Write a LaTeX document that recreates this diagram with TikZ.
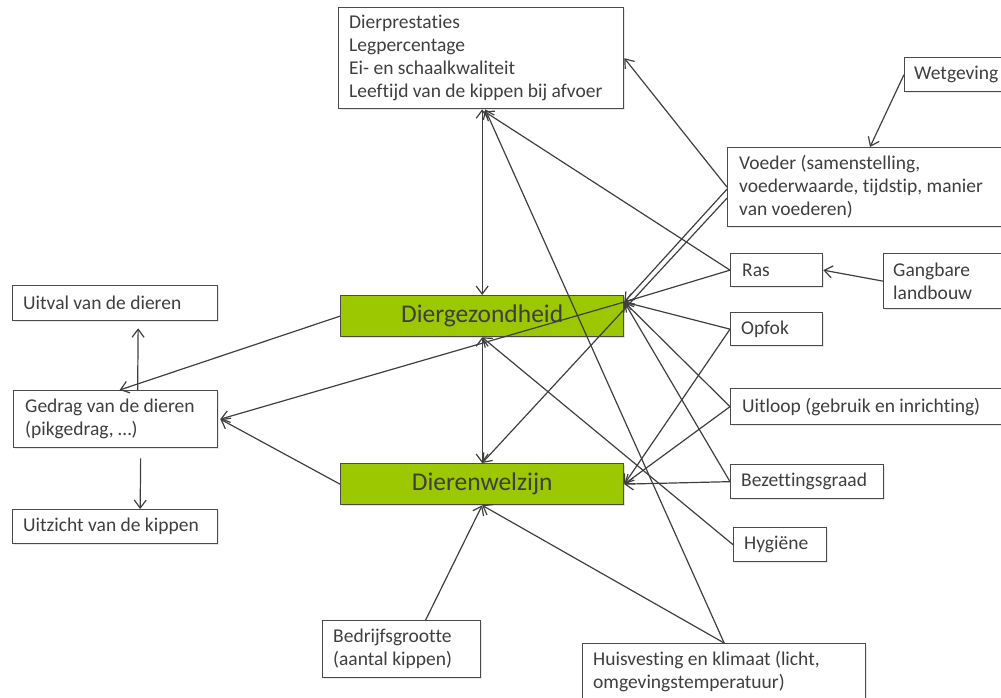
\documentclass[tikz,border=0pt]{standalone}
\usepackage{fontspec}
\setmainfont{Carlito}[Ligatures=NoCommon]
\usetikzlibrary{arrows.meta,calc,shadows}
\definecolor{ink}{HTML}{3F3F3F}
\definecolor{frame}{HTML}{4A4A4A}
\definecolor{leaf}{HTML}{9BC800}
\begin{document}
\begin{tikzpicture}[x=1pt,y=-1pt,
  every node/.style={font=\fontsize{19.5}{23}\selectfont, text=ink},
  box/.style={draw=frame, line width=1.3pt, fill=white, inner sep=0pt, anchor=north west,
    drop shadow={shadow xshift=1.5pt, shadow yshift=-1.5pt, opacity=0.18}},
  txt/.style={anchor=west, xshift=11pt, align=left, inner sep=0pt},
  keybox/.style={draw=frame, line width=1.3pt, fill=leaf, inner sep=0pt, anchor=north west,
    minimum width=283pt, minimum height=41pt, font=\fontsize{25.5}{28}\selectfont,
    drop shadow={shadow xshift=1.5pt, shadow yshift=-1.5pt, opacity=0.25}},
  tip/.tip={Straight Barb[length=8pt,width=12pt]},
  link/.style={draw=ink, line width=1.2pt, -tip},
  both/.style={draw=ink, line width=1.2pt, tip-tip},
]
\useasboundingbox (0,0) rectangle (1001,698);

% outcome boxes
\node[box, minimum width=285pt, minimum height=101pt,
  label={[txt]west:{Dierprestaties\\Legpercentage\\Ei- en schaalkwaliteit\\Leeftijd van de kippen bij afvoer}}]
  (dp) at (338,7) {};
\node[box, minimum width=205pt, minimum height=35pt,
  label={[txt]west:Uitval van de dieren}] (uitval) at (12,285) {};
\node[box, minimum width=204pt, minimum height=57pt,
  label={[txt, xshift=1pt]west:{Gedrag van de dieren\\(pikgedrag, …)}}] (gedrag) at (13,390) {};
\node[box, minimum width=205pt, minimum height=34pt,
  label={[txt]west:Uitzicht van de kippen}] (uitzicht) at (12,509) {};

% central boxes
\node[keybox] (dg) at (340,295) {Diergezondheid};
\node[keybox] (dw) at (340,463) {Dierenwelzijn};

% factor boxes
\node[box, minimum width=130pt, minimum height=34pt,
  label={[txt, xshift=-1pt]west:Wetgeving}] (wet) at (904,57) {};
\node[box, minimum width=274pt, minimum height=79pt,
  label={[txt, xshift=1pt]west:{Voeder (samenstelling,\\voederwaarde, tijdstip, manier\\van voederen)}}]
  (voeder) at (727,147) {};
\node[box, minimum width=92pt, minimum height=33pt,
  label={[txt, xshift=1pt]west:Ras}] (ras) at (730,253) {};
\node[box, minimum width=130pt, minimum height=55pt,
  label={[txt, xshift=-1pt]west:{Gangbare\\landbouw}}] (gang) at (883,253) {};
\node[box, minimum width=92pt, minimum height=33pt,
  label={[txt]west:Opfok}] (opfok) at (730,312) {};
\node[box, minimum width=290pt, minimum height=36pt,
  label={[txt, xshift=1pt]west:Uitloop (gebruik en inrichting)}] (uitloop) at (730,388) {};
\node[box, minimum width=153pt, minimum height=34pt,
  label={[txt]west:Bezettingsgraad}] (bez) at (730,464) {};
\node[box, minimum width=93pt, minimum height=34pt,
  label={[txt]west:Hygiëne}] (hyg) at (733,527) {};
\node[box, minimum width=283pt, minimum height=70pt,
  label={[txt, yshift=7pt]west:{Huisvesting en klimaat (licht,\\omgevingstemperatuur)}}]
  (huis) at (582,643) {};
\node[box, minimum width=158pt, minimum height=57pt,
  label={[txt]west:{Bedrijfsgrootte\\(aantal kippen)}}] (bedr) at (322,620) {};

% shared arrival point on the upper right corner of Diergezondheid
\coordinate (dgc) at ($(dg.north east)+(0,7)$);

% links between the outcomes
\draw[both] (dg.north) -- (dg.north |- dp.south);
\draw[both] (dg.south) -- (dw.north);
\draw[link] (dg.west) -- ($(gedrag.north)+(4,0)$);
\draw[link] (dgc) -- ($(gedrag.east)+(2,0)$);
\draw[link] (dw.west) -- ($(gedrag.east)+(2,0)$);
\draw[link] ($(gedrag.north)+(22,0)$) -- ($(uitval.south)+(23,7)$);
\draw[link] ($(gedrag.south)+(25,10)$) -- ($(uitzicht.north)+(25,0)$);

% links from the factors
\draw[link] (wet.west) -- ($(voeder.north west)+(143,0)$);
\draw[link] (gang.west) -- (ras.east);
\draw[link] (voeder.west) -- (dp.east);
\draw[link] ($(voeder.west)+(0,2)$) -- (dgc);
\draw[link] ($(voeder.west)+(0,11)$) -- (dw.north);
\draw[link] (ras.west) -- ($(dp.south)+(3,2)$);
\draw[link] (ras.west) -- (dgc);
\draw[link] (opfok.west) -- (dgc);
\draw[link] (opfok.west) -- (dw.east);
\draw[link] (uitloop.west) -- (dgc);
\draw[link] (uitloop.west) -- (dw.east);
\draw[link] (bez.west) -- (dgc);
\draw[link] (bez.west) -- (dw.east);
\draw[link] (hyg.west) -- (dg.south);
\draw[link] (huis.north) -- ($(dp.south)+(4,0)$);
\draw[link] (huis.north) -- (dw.south);
\draw[link] ($(bedr.north)+(24,0)$) -- (dw.south);
\end{tikzpicture}
\end{document}
